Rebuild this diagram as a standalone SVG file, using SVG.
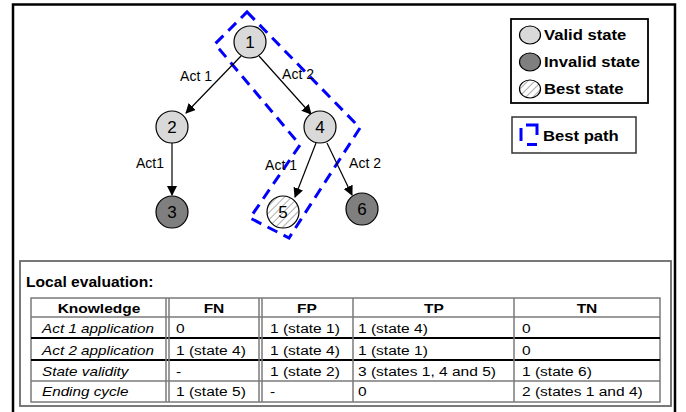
<svg xmlns="http://www.w3.org/2000/svg" width="686" height="412" viewBox="0 0 686 412">
<style>
.valid{fill:#d9d9d9;stroke:#000;stroke-width:1.2}
.invalid{fill:#7f7f7f;stroke:#000;stroke-width:1.2}
.best{fill:url(#hatch);stroke:#000;stroke-width:1.2}
.nl{font-family:"Liberation Sans",Arial,sans-serif;font-size:17px;text-anchor:middle;fill:#000}
.el{font-family:"Liberation Sans",Arial,sans-serif;font-size:14px;text-anchor:middle;fill:#000}
.edge{stroke:#000;stroke-width:1.2;fill:none;marker-end:url(#arr)}
.lg{font-family:"Liberation Sans",Arial,sans-serif;font-size:15px;font-weight:bold;fill:#000;transform-box:fill-box;transform-origin:left center;transform:scaleX(1.11)}
.th{font-family:"Liberation Sans",Arial,sans-serif;font-size:13.5px;font-weight:bold;text-anchor:middle;fill:#000;transform-box:fill-box;transform-origin:center;transform:scaleX(1.15)}
.tk{font-family:"Liberation Sans",Arial,sans-serif;font-size:13.5px;font-style:italic;fill:#000;transform-box:fill-box;transform-origin:left center;transform:scaleX(1.13)}
.td{font-family:"Liberation Sans",Arial,sans-serif;font-size:13.5px;fill:#000;transform-box:fill-box;transform-origin:left center;transform:scaleX(1.15)}
.gl{stroke:#7a7a7a;stroke-width:1.5;fill:none}
.bl{stroke:#000;stroke-width:2.2;fill:none}
.path{fill:none;stroke:#0000ff;stroke-width:3;stroke-dasharray:11 7}
</style>
<defs>
<pattern id="hatch" patternUnits="userSpaceOnUse" width="5" height="5" patternTransform="rotate(45)">
<rect width="5" height="5" fill="#fff"/>
<line x1="0" y1="0" x2="0" y2="5" stroke="#9a9a9a" stroke-width="1.6"/>
</pattern>
<marker id="arr" markerWidth="10" markerHeight="10" refX="9" refY="5" orient="auto" markerUnits="userSpaceOnUse" viewBox="0 0 10 10">
<path d="M0,0 L10,5 L0,10 z" fill="#000"/>
</marker>
</defs>
<rect width="686" height="412" fill="#fff"/>
<g id="frame">
<path d="M13,412 L13,4.5 L675,4.5 L675,412" fill="none" stroke="#000" stroke-width="2.5"/>
</g>
<g id="best-path">
<path class="path" d="M247,12 L360,128 L289,238 L250,218 L300,145 L215,44 Z"/>
</g>
<g id="connectors">
<line class="edge" x1="241" y1="56" x2="186" y2="113"/>
<line class="edge" x1="259" y1="56" x2="311" y2="114"/>
<line class="edge" x1="172" y1="143" x2="172" y2="195"/>
<line class="edge" x1="316" y1="143" x2="295" y2="197"/>
<line class="edge" x1="327" y1="143" x2="352" y2="195"/>
<text class="el" x="196" y="81">Act 1</text>
<text class="el" x="298" y="79">Act 2</text>
<text class="el" x="150" y="168">Act1</text>
<text class="el" x="281" y="170">Act 1</text>
<text class="el" x="365" y="168">Act 2</text>
</g>
<g id="node1"><circle class="valid" cx="250" cy="42" r="16"/><text class="nl" x="250" y="48">1</text></g>
<g id="node2"><circle class="valid" cx="172" cy="127" r="16"/><text class="nl" x="172" y="133">2</text></g>
<g id="node3"><circle class="invalid" cx="172" cy="212" r="16"/><text class="nl" x="172" y="218">3</text></g>
<g id="node4"><circle class="valid" cx="320" cy="127" r="16"/><text class="nl" x="320" y="133">4</text></g>
<g id="node5"><circle class="best" cx="283" cy="212" r="16"/><text class="nl" x="283" y="218">5</text></g>
<g id="node6"><circle class="invalid" cx="362" cy="209" r="16"/><text class="nl" x="362" y="215">6</text></g>
<g id="legend-states">
<rect x="511" y="19" width="137" height="84" fill="#fff" stroke="#000" stroke-width="1.8"/>
<ellipse class="valid" cx="530" cy="35" rx="10.5" ry="9"/>
<text class="lg" x="544" y="40">Valid state</text>
<ellipse class="invalid" cx="530" cy="62" rx="10.5" ry="9"/>
<text class="lg" x="544" y="67">Invalid state</text>
<ellipse class="best" cx="530" cy="89" rx="10.5" ry="9"/>
<text class="lg" x="544" y="94">Best state</text>
</g>
<g id="legend-path">
<rect x="512" y="117" width="124" height="36" fill="#fff" stroke="#333" stroke-width="1.5"/>
<path d="M521,128 L521,141 M526,125 L537,125 L537,135 M527,144.5 L537,144.5" fill="none" stroke="#0000ff" stroke-width="3"/>
<text class="lg" x="543" y="141" font-size="16">Best path</text>
</g>
<g id="evaluation">
<rect x="20" y="261" width="651" height="145" fill="#fff" stroke="#6a6a6a" stroke-width="1.8"/>
<text class="lg" x="26" y="287" font-size="13.5" style="transform:scaleX(1.04)">Local evaluation:</text>
<rect x="31" y="298" width="629" height="104" fill="none" stroke="#7a7a7a" stroke-width="1.5"/>
<line class="gl" x1="31" y1="317" x2="660" y2="317"/>
<line class="bl" x1="31" y1="338" x2="660" y2="338"/>
<line class="bl" x1="31" y1="360" x2="660" y2="360"/>
<line class="gl" x1="31" y1="381" x2="660" y2="381"/>
<line class="gl" x1="166" y1="298" x2="166" y2="402"/>
<line class="gl" x1="169" y1="298" x2="169" y2="402"/>
<line class="gl" x1="259" y1="298" x2="259" y2="402"/>
<line class="gl" x1="262" y1="298" x2="262" y2="402"/>
<line class="gl" x1="353" y1="298" x2="353" y2="402"/>
<line class="gl" x1="514" y1="298" x2="514" y2="402"/>
<text class="th" x="99" y="313">Knowledge</text>
<text class="th" x="214" y="313">FN</text>
<text class="th" x="307" y="313">FP</text>
<text class="th" x="434" y="313">TP</text>
<text class="th" x="587" y="313">TN</text>
<text class="tk" x="42" y="333">Act 1 application</text>
<text class="td" x="176" y="333">0</text>
<text class="td" x="270" y="333">1 (state 1)</text>
<text class="td" x="358" y="333">1 (state 4)</text>
<text class="td" x="522" y="333">0</text>
<text class="tk" x="42" y="355">Act 2 application</text>
<text class="td" x="176" y="355">1 (state 4)</text>
<text class="td" x="270" y="355">1 (state 4)</text>
<text class="td" x="358" y="355">1 (state 1)</text>
<text class="td" x="522" y="355">0</text>
<text class="tk" x="42" y="376">State validity</text>
<text class="td" x="176" y="376">-</text>
<text class="td" x="270" y="376">1 (state 2)</text>
<text class="td" x="358" y="376">3 (states 1, 4 and 5)</text>
<text class="td" x="522" y="376">1 (state 6)</text>
<text class="tk" x="42" y="396">Ending cycle</text>
<text class="td" x="176" y="396">1 (state 5)</text>
<text class="td" x="270" y="396">-</text>
<text class="td" x="358" y="396">0</text>
<text class="td" x="522" y="396">2 (states 1 and 4)</text>
</g>
</svg>
